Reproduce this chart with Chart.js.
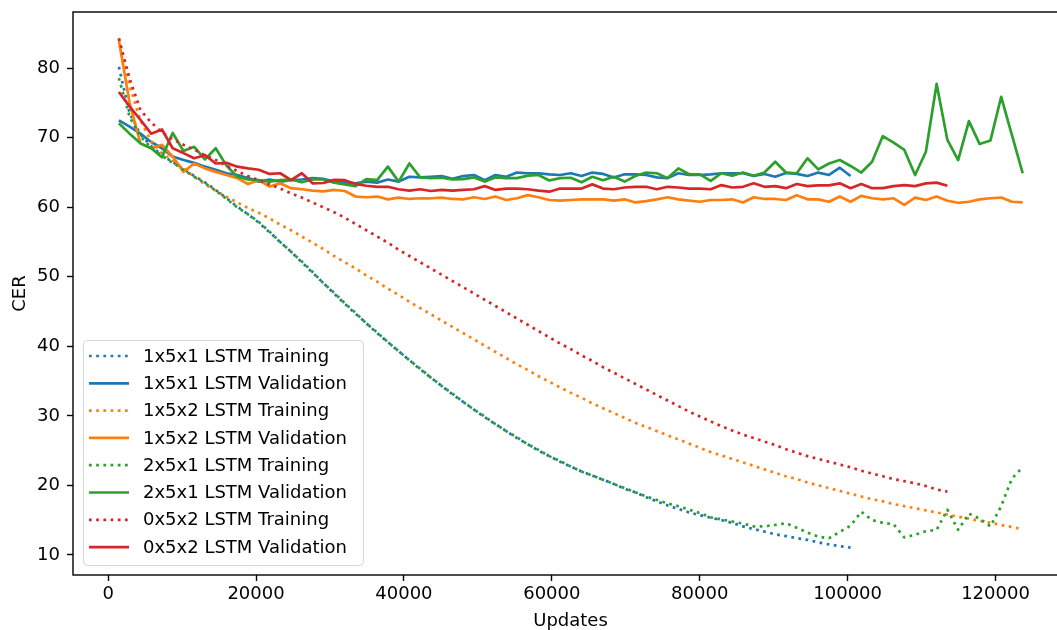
<!DOCTYPE html>
<html>
<head>
<meta charset="utf-8">
<script src="https://cdn.jsdelivr.net/npm/chart.js@4/dist/chart.umd.min.js"></script>
<style>
    body { margin: 0; background: #fff; overflow: hidden; }
    canvas { display: block; }
</style>
</head>
<body>
<canvas id="cer-chart" width="1070" height="630"></canvas>
<script>
// evaluation points (updates)
const UPDATES = [
    1455, 2910, 4365, 5820, 7275, 8730, 10185, 11640, 13095, 14550,
    16005, 17460, 18915, 20370, 21825, 23280, 24735, 26190, 27645, 29100,
    30555, 32010, 33465, 34920, 36375, 37830, 39285, 40740, 42195, 43650,
    45105, 46560, 48015, 49470, 50925, 52380, 53835, 55290, 56745, 58200,
    59655, 61110, 62565, 64020, 65475, 66930, 68385, 69840, 71295, 72750,
    74205, 75660, 77115, 78570, 80025, 81480, 82935, 84390, 85845, 87300,
    88755, 90210, 91665, 93120, 94575, 96030, 97485, 98940, 100395, 101850,
    103305, 104760, 106215, 107670, 109125, 110580, 112035, 113490, 114945, 116400,
    117855, 119310, 120765, 122220, 123675
];

const X_TICKS = [0, 20000, 40000, 60000, 80000, 100000, 120000];
const Y_TICKS = [10, 20, 30, 40, 50, 60, 70, 80];

const TRAIN_1X5X1 = [
    80.2, 73.5, 70.5, 68.8, 67.5, 66.5, 65.5, 64.5, 63.6, 62.5,
    61.3, 60.1, 59.0, 57.8, 56.4, 55.0, 53.6, 52.1, 50.6, 49.1,
    47.6, 46.1, 44.7, 43.3, 41.9, 40.6, 39.3, 38.0, 36.7, 35.5,
    34.3, 33.1, 32.0, 30.9, 29.8, 28.8, 27.8, 26.8, 25.9, 25.0,
    24.2, 23.4, 22.7, 22.0, 21.4, 20.8, 20.2, 19.5, 19.0, 18.3,
    17.7, 17.1, 16.6, 16.1, 15.7, 15.35, 15.0, 14.6, 14.1, 13.7,
    13.35, 12.95, 12.7, 12.4, 12.15, 11.8, 11.5, 11.25, 11.05
];
const VALID_1X5X1 = [
    72.5, 71.6, 70.6, 69.4, 68.5, 67.3, 66.8, 66.4, 65.85, 65.4,
    64.9, 64.65, 64.2, 63.7, 64.0, 63.7, 63.9, 64.0, 64.2, 64.1,
    63.7, 63.6, 63.45, 63.7, 63.55, 64.0, 63.7, 64.4, 64.3, 64.4,
    64.5, 64.1, 64.5, 64.65, 63.9, 64.65, 64.4, 65.0, 64.9, 64.9,
    64.75, 64.65, 64.9, 64.5, 65.0, 64.8, 64.3, 64.75, 64.75, 64.65,
    64.3, 64.2, 64.9, 64.65, 64.65, 64.75, 64.9, 64.9, 64.9, 64.5,
    64.8, 64.4, 64.95, 64.8, 64.5, 65.0, 64.65, 65.7, 64.5
];
const TRAIN_1X5X2 = [
    84.3, 77.5, 72.5, 69.5, 67.8, 66.7, 65.6, 64.4, 63.3, 62.4,
    61.5, 60.7, 59.9, 59.2, 58.4, 57.5, 56.7, 55.8, 54.9, 54.0,
    53.0, 52.1, 51.2, 50.2, 49.3, 48.3, 47.4, 46.4, 45.5, 44.6,
    43.7, 42.8, 41.9, 41.0, 40.1, 39.2, 38.3, 37.4, 36.6, 35.7,
    34.9, 34.1, 33.3, 32.6, 31.8, 31.1, 30.4, 29.7, 29.0, 28.4,
    27.8, 27.2, 26.6, 26.0, 25.4, 24.8, 24.3, 23.8, 23.3, 22.8,
    22.3, 21.8, 21.3, 20.9, 20.4, 20.0, 19.6, 19.2, 18.8, 18.4,
    18.0, 17.7, 17.3, 17.0, 16.7, 16.4, 16.1, 15.8, 15.5, 15.2,
    14.9, 14.6, 14.3, 14.0, 13.7
];
const VALID_1X5X2 = [
    84.0, 75.0, 69.2, 68.5, 69.0, 67.3, 65.1, 66.3, 65.6, 65.1,
    64.65, 64.2, 63.35, 63.9, 63.0, 63.45, 62.75, 62.6, 62.4, 62.3,
    62.5, 62.35, 61.55, 61.45, 61.55, 61.15, 61.4, 61.2, 61.3, 61.3,
    61.4, 61.2, 61.15, 61.45, 61.2, 61.55, 61.05, 61.3, 61.75, 61.45,
    61.05, 60.95, 61.05, 61.15, 61.15, 61.15, 60.95, 61.15, 60.7, 60.9,
    61.15, 61.45, 61.15, 60.95, 60.8, 61.05, 61.05, 61.15, 60.7, 61.45,
    61.2, 61.2, 61.05, 61.75, 61.15, 61.15, 60.8, 61.55, 60.8, 61.65,
    61.3, 61.15, 61.3, 60.35, 61.4, 61.05, 61.55, 60.95, 60.65, 60.8,
    61.15, 61.3, 61.4, 60.8, 60.7
];
const TRAIN_2X5X1 = [
    78.6, 73.0, 70.2, 68.6, 67.4, 66.4, 65.4, 64.4, 63.5, 62.4,
    61.2, 60.0, 59.0, 57.9, 56.5, 55.0, 53.6, 52.2, 50.7, 49.1,
    47.7, 46.2, 44.8, 43.3, 42.0, 40.6, 39.3, 38.0, 36.8, 35.5,
    34.3, 33.2, 32.0, 30.9, 29.9, 28.8, 27.8, 26.9, 25.9, 25.1,
    24.2, 23.5, 22.7, 22.0, 21.4, 20.8, 20.2, 19.6, 19.0, 18.4,
    17.9, 17.4, 17.0, 16.5, 16.0, 15.4, 15.1, 14.8, 14.5, 14.1,
    14.1, 14.3, 14.55, 13.9, 13.2, 12.6, 12.4, 13.3, 14.2, 16.2,
    15.0, 14.6, 14.4, 12.5, 12.9, 13.4, 13.6, 16.5, 13.6, 15.95,
    15.2, 14.1, 17.0, 21.0, 22.6
];
const VALID_2X5X1 = [
    72.1, 70.6, 69.2, 68.5, 67.2, 70.7, 68.1, 68.7, 66.9, 68.5,
    66.0, 64.4, 64.0, 63.9, 63.7, 63.9, 64.0, 63.6, 64.0, 64.0,
    63.55, 63.3, 63.05, 64.05, 63.9, 65.85, 63.7, 66.3, 64.3, 64.2,
    64.25, 64.0, 64.05, 64.3, 63.7, 64.3, 64.2, 64.2, 64.55, 64.65,
    63.85, 64.2, 64.25, 63.6, 64.4, 63.9, 64.4, 63.7, 64.5, 65.0,
    64.9, 64.2, 65.6, 64.75, 64.75, 63.8, 64.9, 64.55, 65.0, 64.55,
    65.0, 66.55, 65.0, 64.9, 67.05, 65.45, 66.3, 66.8, 65.95, 65.0,
    66.55, 70.25, 69.3, 68.25, 64.65, 68.0, 77.75, 69.7, 66.8, 72.4,
    69.1, 69.6, 75.9, 70.4, 64.9
];
const TRAIN_0X5X2 = [
    84.3, 78.5, 74.0, 72.2, 70.8, 69.8, 69.0, 68.3, 67.5, 66.8,
    66.0, 65.2, 64.5, 63.9, 63.3, 62.7, 62.0, 61.4, 60.7, 60.0,
    59.3, 58.5, 57.6, 56.7, 55.8, 54.9, 53.9, 53.0, 52.1, 51.2,
    50.3, 49.4, 48.5, 47.6, 46.7, 45.8, 44.9, 44.0, 43.1, 42.2,
    41.3, 40.4, 39.6, 38.7, 37.9, 37.0, 36.2, 35.4, 34.6, 33.8,
    33.0, 32.2, 31.4, 30.6, 29.9, 29.2, 28.5, 27.9, 27.3, 26.8,
    26.3, 25.8, 25.2, 24.7, 24.2, 23.8, 23.4, 23.0, 22.6, 22.1,
    21.7, 21.3, 20.9, 20.6, 20.3, 19.9, 19.4, 19.1
];
const VALID_0X5X2 = [
    76.6, 74.5, 72.6, 70.6, 71.2, 68.5, 67.8, 67.05, 67.5, 66.3,
    66.4, 65.85, 65.6, 65.4, 64.8, 64.9, 63.9, 64.9, 63.45, 63.5,
    63.95, 63.9, 63.35, 63.1, 62.95, 62.95, 62.6, 62.4, 62.6, 62.35,
    62.5, 62.4, 62.5, 62.6, 63.05, 62.5, 62.7, 62.7, 62.6, 62.4,
    62.25, 62.7, 62.7, 62.7, 63.3, 62.7, 62.6, 62.85, 62.95, 62.95,
    62.6, 62.95, 62.85, 62.7, 62.7, 62.6, 63.2, 62.85, 62.95, 63.45,
    62.95, 63.05, 62.75, 63.35, 63.05, 63.15, 63.15, 63.45, 62.75, 63.35,
    62.75, 62.75, 63.05, 63.2, 63.05, 63.45, 63.55, 63.1
];

const LABELS = [
    '1x5x1 LSTM Training', '1x5x1 LSTM Validation',
    '1x5x2 LSTM Training', '1x5x2 LSTM Validation',
    '2x5x1 LSTM Training', '2x5x1 LSTM Validation',
    '0x5x2 LSTM Training', '0x5x2 LSTM Validation'
];
const VALUES = [
    TRAIN_1X5X1, VALID_1X5X1, TRAIN_1X5X2, VALID_1X5X2,
    TRAIN_2X5X1, VALID_2X5X1, TRAIN_0X5X2, VALID_0X5X2
];

const BLUE = '#1f77b4';
const ORANGE = '#ff7f0e';
const GREEN = '#2ca02c';
const RED = '#d62728';
const COLORS = [BLUE, BLUE, ORANGE, ORANGE, GREEN, GREEN, RED, RED];

const LINE_WIDTH = 2.7;
const DOTTED = [2.7, 4.5];
const FONT = 'DejaVu Sans';

function toPoints(values) {
    return values.map((v, i) => ({x: UPDATES[i], y: v}));
}

function buildDatasets() {
    var sets = [];
    for (let i = 0; i < LABELS.length; i++) {
        let training = (i % 2 === 0);
        sets.push({
            label: LABELS[i],
            data: toPoints(VALUES[i]),
            borderColor: COLORS[i],
            backgroundColor: COLORS[i],
            borderWidth: LINE_WIDTH,
            borderDash: training ? DOTTED : [],
            borderCapStyle: 'butt',
            borderJoinStyle: 'round',
            pointRadius: 0,
            tension: 0,
            fill: false,
            order: LABELS.length - i   // later series on top, like matplotlib
        });
    }
    return sets;
}

// top and right spines
const framePlugin = {
    id: 'frame',
    afterDatasetsDraw(chart) {
        const a = chart.chartArea;
        const ctx = chart.ctx;
        ctx.save();
        ctx.strokeStyle = '#000';
        ctx.lineWidth = 1.4;
        ctx.strokeRect(a.left, a.top, a.right - a.left, a.bottom - a.top);
        ctx.restore();
    }
};

// legend box in the lower left corner of the axes
const legendPlugin = {
    id: 'boxLegend',
    afterDraw(chart) {
        const ctx = chart.ctx;
        const sets = chart.data.datasets;
        ctx.save();
        ctx.beginPath();
        ctx.roundRect(83.5, 340.5, 280, 225, 4);
        ctx.fillStyle = 'rgba(255,255,255,0.8)';
        ctx.fill();
        ctx.strokeStyle = 'rgba(204,204,204,0.8)';
        ctx.lineWidth = 1;
        ctx.stroke();

        ctx.font = '18px "' + FONT + '"';
        ctx.textBaseline = 'middle';
        for (let i = 0; i < sets.length; i++) {
            let y = 356 + i * 27.3;
            ctx.beginPath();
            ctx.setLineDash(sets[i].borderDash);
            ctx.strokeStyle = sets[i].borderColor;
            ctx.lineWidth = sets[i].borderWidth;
            ctx.lineCap = 'butt';
            ctx.moveTo(89, y);
            ctx.lineTo(129, y);
            ctx.stroke();
            ctx.setLineDash([]);
            ctx.fillStyle = '#000';
            ctx.fillText(sets[i].label, 143, y + 1);
        }
        ctx.restore();
    }
};

function fixPadding(scale) {
    scale.paddingTop = 0;
    scale.paddingBottom = 0;
    scale.paddingLeft = 0;
    scale.paddingRight = 0;
}

function drawChart() {
    var ctx = document.getElementById('cer-chart').getContext('2d');

    Chart.defaults.font.family = FONT;
    Chart.defaults.font.size = 18;
    Chart.defaults.color = '#000';

    var axisGrid = {
        display: true,
        drawOnChartArea: false,
        drawTicks: true,
        tickLength: 6,
        tickWidth: 1.4,
        color: '#000'
    };

    var chart = new Chart(ctx, {
        type: 'line',
        data: { datasets: buildDatasets() },
        options: {
            responsive: false,
            animation: false,
            devicePixelRatio: 1,
            layout: { padding: { top: 12, right: 2, bottom: 0, left: 0 } },
            plugins: {
                legend: { display: false },
                tooltip: { enabled: false },
                title: { display: false }
            },
            scales: {
                x: {
                    type: 'linear',
                    min: -4750,
                    max: 129800,
                    grid: axisGrid,
                    border: { display: false },
                    afterFit: (scale) => { scale.height = 55; fixPadding(scale); },
                    afterBuildTicks: (scale) => {
                        scale.ticks = X_TICKS.map(v => ({value: v}));
                    },
                    ticks: {
                        autoSkip: false,
                        maxRotation: 0,
                        padding: 3,
                        callback: (value) => String(value)
                    },
                    title: {
                        display: true,
                        text: 'Updates',
                        font: { size: 18, lineHeight: 1 },
                        padding: { top: 0, bottom: 0 }
                    }
                },
                y: {
                    type: 'linear',
                    min: 7.1,
                    max: 88.1,
                    grid: axisGrid,
                    border: { display: false },
                    afterFit: (scale) => { scale.width = 73; fixPadding(scale); },
                    afterBuildTicks: (scale) => {
                        scale.ticks = Y_TICKS.map(v => ({value: v}));
                    },
                    ticks: {
                        autoSkip: false,
                        padding: 7,
                        callback: (value) => String(value)
                    },
                    title: {
                        display: true,
                        text: 'CER',
                        font: { size: 18, lineHeight: 1 },
                        padding: { top: 11, bottom: 0 }
                    }
                }
            }
        },
        plugins: [framePlugin, legendPlugin]
    });
}

drawChart();
</script>
</body>
</html>
